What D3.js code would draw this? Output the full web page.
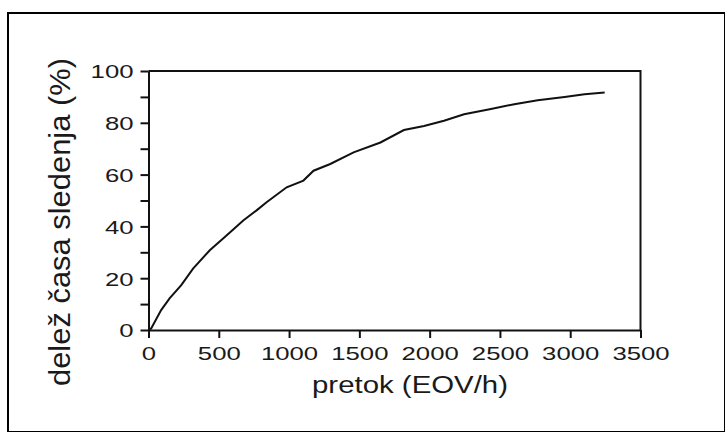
<!DOCTYPE html>
<html><head><meta charset="utf-8">
<script src="https://cdn.jsdelivr.net/npm/d3@7/dist/d3.min.js"></script>
<style>
html,body{margin:0;padding:0;background:#fff;}
svg{display:block;}
text{font-family:"Liberation Sans",Arial,sans-serif;fill:#1a1a1a;}
</style></head>
<body>
<svg id="c" width="725" height="432"></svg>
<script>
// data
const flow =   [0, 19, 90, 150, 233, 317, 436, 555, 674, 769, 840, 983, 1102, 1174, 1293, 1459, 1650, 1817, 1960, 2102, 2245, 2436, 2602, 2769, 2960, 3102, 3245];
const share =  [0, 0.6, 7.7, 12.2, 17.3, 23.7, 30.8, 36.5, 42.3, 46.2, 49.3, 55.1, 57.7, 61.5, 64.1, 68.6, 72.4, 77.2, 78.8, 80.8, 83.3, 85.3, 87.2, 88.7, 90.0, 91.0, 91.7];
const xTicks = [0, 500, 1000, 1500, 2000, 2500, 3000, 3500];
const yTicks = [0, 10, 20, 30, 40, 50, 60, 70, 80, 90, 100];
const yLabeled = [0, 20, 40, 60, 80, 100];
const xTitle = "pretok (EOV/h)";
const yTitle = "delež časa sledenja (%)";

const svg = d3.select("#c");
// outer frame
svg.append("rect").attr("x", 8).attr("y", 13).attr("width", 717).attr("height", 419)
  .attr("fill", "none").attr("stroke", "#000").attr("stroke-width", 2);

const x = d3.scaleLinear().domain([0, 3500]).range([148.5, 640.5]);
const y = d3.scaleLinear().domain([0, 100]).range([330, 71]);

// plot box (top and right)
const g = svg.append("g");
g.append("path").attr("d", `M${x(0)},${y(100)}H${x(3500)}V${y(0)}`)
  .attr("fill", "none").attr("stroke", "#111").attr("stroke-width", 2);

const charW = 14.3;
const xAxis = g.append("g").attr("transform", `translate(0,${y(0)})`)
  .call(d3.axisBottom(x).tickValues(xTicks).tickSize(8).tickSizeOuter(0).tickPadding(4).tickFormat(d3.format("d")));
const yAxis = g.append("g").attr("transform", `translate(${x(0)},0)`)
  .call(d3.axisLeft(y).tickValues(yTicks).tickSize(8).tickSizeOuter(0).tickPadding(6)
    .tickFormat(d => yLabeled.includes(d) ? String(d) : ""));
[xAxis, yAxis].forEach(a => {
  a.select(".domain").attr("stroke", "#111").attr("stroke-width", 2);
  a.selectAll(".tick line").attr("stroke", "#111").attr("stroke-width", 2);
  a.selectAll(".tick text").attr("font-size", 19).attr("fill", "#1a1a1a")
    .attr("font-family", "Liberation Sans, Arial, sans-serif")
    .each(function() {
      const t = d3.select(this); const s = t.text();
      if (s.length) t.attr("textLength", s.length * charW).attr("lengthAdjust", "spacingAndGlyphs");
    });
});
xAxis.selectAll(".tick text").attr("dy", null).attr("y", 30);
yAxis.selectAll(".tick text").attr("x", -15).attr("dy", "0.36em");

// curve
const pts = flow.map((v, i) => [v, share[i]]);
g.append("path").datum(pts)
  .attr("d", d3.line().x(d => x(d[0])).y(d => y(d[1])))
  .attr("fill", "none").attr("stroke", "#111").attr("stroke-width", 2);

// titles
svg.append("text").attr("x", 410).attr("y", 393).attr("text-anchor", "middle")
  .attr("font-size", 23).attr("textLength", 196).attr("lengthAdjust", "spacingAndGlyphs")
  .text(xTitle);
svg.append("text").attr("transform", "translate(70,222) rotate(-90)").attr("text-anchor", "middle")
  .attr("font-size", 30).attr("textLength", 328).attr("lengthAdjust", "spacingAndGlyphs")
  .attr("fill", "#333")
  .text(yTitle);
</script>
</body></html>
